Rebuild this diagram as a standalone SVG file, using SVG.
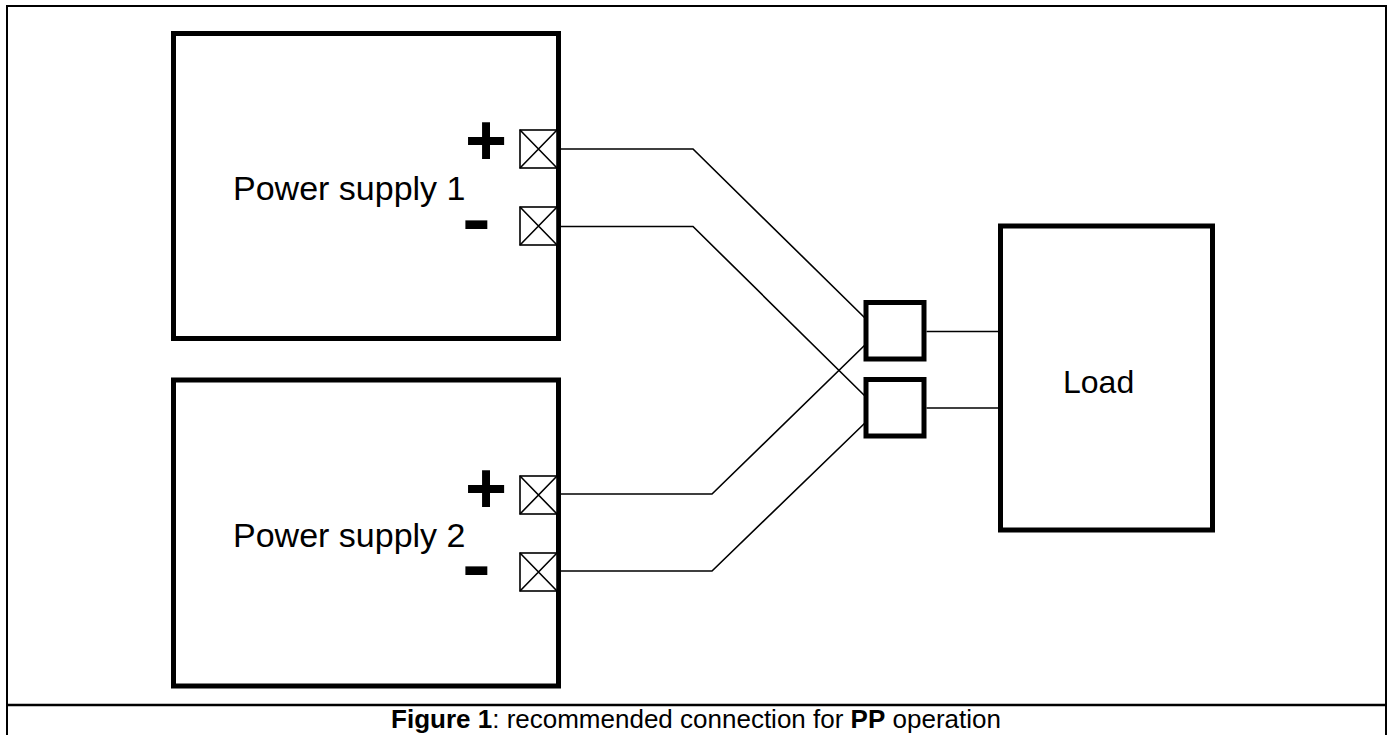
<svg xmlns="http://www.w3.org/2000/svg" width="1391" height="735" viewBox="0 0 1391 735">
<style>
.box{fill:#fff;stroke:#000;stroke-width:5}
.term{fill:#fff;stroke:#000;stroke-width:1.6}
.wire{fill:none;stroke:#000;stroke-width:1.6}
.lbl{font-family:"Liberation Sans",Arial,sans-serif;font-size:34px;fill:#000}
.sign{font-family:"Liberation Sans",Arial,sans-serif;font-weight:bold;font-size:72px;fill:#000;text-anchor:middle}
.cap{font-family:"Liberation Sans",Arial,sans-serif;font-size:26px;fill:#000}
</style>
<defs>
<g id="tx"><rect class="term" x="0" y="0" width="37" height="38"/><path class="wire" d="M0,0L37,38M0,38L37,0"/></g>
</defs>
<rect width="1391" height="735" fill="#fff"/>
<rect x="7" y="6" width="1379" height="740" fill="none" stroke="#000" stroke-width="2"/>
<line x1="7" y1="705" x2="1386" y2="705" stroke="#000" stroke-width="2.5"/>
<g id="ps1">
<rect class="box" x="173.5" y="33.5" width="385" height="305"/>
<text class="lbl" x="233" y="200">Power supply 1</text>
<text class="sign" x="486" y="165">+</text>
<text class="sign" transform="translate(476.5,243) scale(1.2,1)">-</text>
<use href="#tx" x="520" y="130"/>
<use href="#tx" x="520" y="207"/>
</g>
<g id="ps2">
<rect class="box" x="173.5" y="380" width="385" height="306"/>
<text class="lbl" x="233" y="547">Power supply 2</text>
<text class="sign" x="486" y="513">+</text>
<text class="sign" transform="translate(476.5,589) scale(1.2,1)">-</text>
<use href="#tx" x="520" y="476"/>
<use href="#tx" x="520" y="553"/>
</g>
<g id="j1"><rect class="box" x="866" y="302.5" width="58" height="56.5"/></g>
<g id="j2"><rect class="box" x="866" y="379.5" width="58" height="56.5"/></g>
<g id="load">
<rect class="box" x="1000.5" y="226" width="212" height="304"/>
<text class="lbl" x="1063" y="393" style="font-size:32px">Load</text>
</g>
<g id="connectors">
<path class="wire" d="M561,149H693L866,319"/>
<path class="wire" d="M561,226.5H693L866,397"/>
<path class="wire" d="M561,494H712L866,344"/>
<path class="wire" d="M561,571H712L866,422"/>
<path class="wire" d="M926.5,331.5H998"/>
<path class="wire" d="M926.5,408H998"/>
</g>
<text class="cap" x="696" y="728" text-anchor="middle"><tspan font-weight="bold">Figure 1</tspan>: recommended connection for <tspan font-weight="bold">PP</tspan> operation</text>
</svg>
